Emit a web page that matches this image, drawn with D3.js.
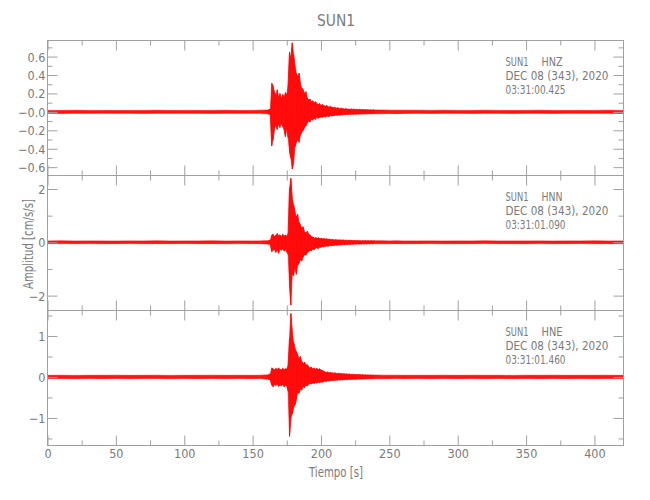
<!DOCTYPE html>
<html><head><meta charset="utf-8">
<script src="https://cdn.jsdelivr.net/npm/d3@7"></script>
<style>body{margin:0;background:#fff}svg{display:block}</style>
</head><body><svg id="c" width="650" height="500"></svg>
<script>
// ---------------- DATA ----------------
const station = "SUN1";
const channels = ["HNZ", "HNN", "HNE"];
const dateLabel = "DEC 08 (343), 2020";
const startTimes = ["03:31:00.425", "03:31:01.090", "03:31:01.460"];
const titleText = "SUN1";
const xLabel = "Tiempo [s]";
const yLabel = "Amplitud [cm/s/s]";

const xTicks = [0, 50, 100, 150, 200, 250, 300, 350, 400];
const xMinorTicks = [25, 75, 125, 175, 225, 275, 325, 375];

const hnzTickValues = [-0.6, -0.4, -0.2, 0, 0.2, 0.4, 0.6];
const hnzTickLabels = ["\u22120.6", "\u22120.4", "\u22120.2", "\u22120.0", "0.2", "0.4", "0.6"];
const hnzMinorTicks = [-0.5, -0.3, -0.1, 0.1, 0.3, 0.5, 0.7];
const hnnTickValues = [-2, 0, 2];
const hnnTickLabels = ["\u22122", "0", "2"];
const hnnMinorTicks = [-1, 1];
const hneTickValues = [-1, 0, 1];
const hneTickLabels = ["\u22121", "0", "1"];
const hneMinorTicks = [-1.5, -0.5, 0.5, 1.5];

// time knots (s): per-knot max / min amplitude of each trace
const times = [0,10,20,30,40,50,60,70,80,90,100,110,120,130,140,150,155,
 160,161,162,163,164,165,166,167,168,169,170,171,172,173,174,175,176,177,178,179,
 180,181,182,183,184,185,186,187,188,189,190,191,192,193,194,195,196,197,198,199,
 200,201,202,203,204,205,206,207,208,209,210,211,212,213,214,215,216,217,218,219,
 220,221,222,223,224,225,226,227,228,229,230,231,232,233,234,235,236,237,238,239,240,
 245,250,255,260,270,280,290,300,310,320,330,340,350,360,370,380,390,400,410,420,421];

const hnzHi = [0.016,0.015,0.017,0.015,0.016,0.014,0.016,0.015,0.017,0.015,0.016,0.015,0.016,0.017,0.015,0.016,0.017,
 0.02,0.02,0.025,0.03,0.31,0.28,0.22,0.17,0.24,0.15,0.20,0.14,0.19,0.16,0.21,0.18,0.30,0.65,0.58,0.75,
 0.62,0.50,0.42,0.38,0.42,0.30,0.26,0.24,0.20,0.22,0.15,0.13,0.14,0.11,0.12,0.10,0.11,0.09,0.08,0.09,
 0.07,0.08,0.07,0.06,0.07,0.06,0.05,0.06,0.05,0.045,0.05,0.04,0.045,0.04,0.035,0.04,0.035,0.03,0.035,0.03,
 0.03,0.028,0.032,0.027,0.03,0.026,0.028,0.025,0.027,0.024,0.026,0.023,0.025,0.022,0.024,0.021,0.023,0.02,0.022,0.02,0.021,
 0.02,0.019,0.018,0.019,0.017,0.016,0.017,0.016,0.015,0.017,0.016,0.015,0.016,0.017,0.015,0.016,0.015,0.016,0.017,0.015,0.016];
const hnzLo = [-0.015,-0.017,-0.015,-0.016,-0.014,-0.016,-0.015,-0.017,-0.015,-0.016,-0.015,-0.016,-0.017,-0.015,-0.016,-0.015,-0.016,
 -0.02,-0.02,-0.025,-0.03,-0.37,-0.30,-0.18,-0.14,-0.19,-0.13,-0.17,-0.12,-0.16,-0.19,-0.27,-0.18,-0.28,-0.43,-0.50,-0.62,
 -0.55,-0.38,-0.33,-0.30,-0.33,-0.25,-0.22,-0.20,-0.17,-0.15,-0.12,-0.10,-0.11,-0.08,-0.09,-0.07,-0.08,-0.06,-0.07,-0.06,
 -0.055,-0.06,-0.05,-0.055,-0.05,-0.045,-0.05,-0.04,-0.045,-0.04,-0.038,-0.035,-0.037,-0.033,-0.035,-0.03,-0.032,-0.028,-0.03,-0.027,
 -0.028,-0.026,-0.027,-0.025,-0.026,-0.024,-0.025,-0.023,-0.024,-0.022,-0.023,-0.021,-0.022,-0.02,-0.021,-0.02,-0.021,-0.019,-0.02,-0.019,-0.02,
 -0.019,-0.018,-0.019,-0.017,-0.016,-0.017,-0.015,-0.016,-0.017,-0.015,-0.016,-0.017,-0.015,-0.016,-0.017,-0.015,-0.016,-0.015,-0.016,-0.017,-0.015];

const hnnHi = [0.05,0.055,0.048,0.052,0.05,0.046,0.053,0.05,0.055,0.048,0.051,0.05,0.054,0.047,0.052,0.05,0.053,
 0.06,0.06,0.07,0.08,0.27,0.30,0.22,0.26,0.33,0.24,0.28,0.22,0.30,0.25,0.27,0.23,0.35,2.03,2.40,1.65,
 1.40,1.15,0.95,1.05,0.75,0.65,0.55,0.58,0.40,0.35,0.42,0.30,0.28,0.22,0.20,0.16,0.18,0.15,0.17,0.14,
 0.15,0.13,0.14,0.12,0.13,0.11,0.12,0.10,0.11,0.10,0.09,0.10,0.09,0.085,0.09,0.08,0.085,0.08,0.075,0.08,
 0.07,0.075,0.07,0.065,0.07,0.065,0.06,0.065,0.06,0.062,0.058,0.06,0.057,0.06,0.055,0.058,0.055,0.057,0.054,0.056,0.055,
 0.055,0.052,0.054,0.05,0.05,0.053,0.048,0.052,0.05,0.055,0.049,0.051,0.05,0.053,0.047,0.052,0.05,0.054,0.049,0.051,0.05];
const hnnLo = [-0.05,-0.047,-0.053,-0.049,-0.052,-0.05,-0.048,-0.054,-0.05,-0.052,-0.047,-0.051,-0.05,-0.053,-0.049,-0.052,-0.05,
 -0.06,-0.06,-0.07,-0.08,-0.35,-0.30,-0.26,-0.38,-0.28,-0.41,-0.25,-0.30,-0.24,-0.33,-0.28,-0.36,-0.45,-1.60,-2.35,-1.20,
 -1.25,-0.95,-1.20,-0.85,-0.80,-0.65,-0.70,-0.55,-0.45,-0.48,-0.38,-0.35,-0.30,-0.32,-0.25,-0.28,-0.22,-0.20,-0.24,-0.18,
 -0.19,-0.16,-0.17,-0.15,-0.14,-0.15,-0.13,-0.12,-0.13,-0.11,-0.12,-0.10,-0.11,-0.095,-0.10,-0.09,-0.085,-0.09,-0.08,-0.085,
 -0.075,-0.08,-0.07,-0.075,-0.068,-0.07,-0.065,-0.062,-0.065,-0.06,-0.062,-0.058,-0.06,-0.057,-0.058,-0.055,-0.057,-0.054,-0.056,-0.053,-0.055,
 -0.053,-0.055,-0.05,-0.052,-0.05,-0.048,-0.053,-0.05,-0.052,-0.047,-0.051,-0.05,-0.054,-0.049,-0.052,-0.05,-0.048,-0.053,-0.05,-0.052,-0.05];

const hneHi = [0.04,0.042,0.038,0.041,0.04,0.043,0.039,0.04,0.042,0.038,0.041,0.04,0.043,0.039,0.041,0.04,0.042,
 0.05,0.05,0.06,0.07,0.22,0.20,0.17,0.21,0.18,0.22,0.19,0.17,0.21,0.18,0.20,0.19,0.30,0.95,1.55,1.10,
 0.85,0.70,0.62,0.54,0.45,0.50,0.38,0.33,0.36,0.29,0.30,0.25,0.22,0.24,0.20,0.22,0.19,0.21,0.18,0.20,
 0.17,0.16,0.14,0.12,0.11,0.12,0.10,0.11,0.10,0.09,0.10,0.09,0.085,0.09,0.08,0.085,0.075,0.08,0.07,0.075,
 0.065,0.07,0.06,0.065,0.06,0.058,0.06,0.055,0.058,0.052,0.055,0.05,0.052,0.048,0.05,0.046,0.048,0.045,0.046,0.044,0.045,
 0.044,0.042,0.043,0.04,0.041,0.04,0.043,0.039,0.042,0.04,0.041,0.038,0.042,0.04,0.043,0.039,0.041,0.04,0.042,0.039,0.04];
const hneLo = [-0.04,-0.038,-0.042,-0.04,-0.041,-0.039,-0.043,-0.04,-0.038,-0.042,-0.04,-0.041,-0.039,-0.042,-0.04,-0.041,-0.04,
 -0.05,-0.05,-0.06,-0.07,-0.20,-0.24,-0.18,-0.21,-0.16,-0.23,-0.19,-0.22,-0.17,-0.24,-0.20,-0.22,-0.35,-1.45,-1.00,-0.90,
 -0.75,-0.68,-0.55,-0.37,-0.40,-0.30,-0.32,-0.24,-0.26,-0.20,-0.22,-0.18,-0.16,-0.17,-0.15,-0.16,-0.14,-0.15,-0.13,-0.14,
 -0.12,-0.13,-0.11,-0.10,-0.11,-0.09,-0.10,-0.085,-0.09,-0.08,-0.085,-0.075,-0.08,-0.07,-0.075,-0.068,-0.07,-0.065,-0.062,-0.065,
 -0.06,-0.058,-0.06,-0.055,-0.056,-0.053,-0.055,-0.05,-0.052,-0.048,-0.05,-0.046,-0.048,-0.045,-0.046,-0.043,-0.045,-0.042,-0.044,-0.041,-0.043,
 -0.043,-0.041,-0.04,-0.042,-0.04,-0.042,-0.039,-0.041,-0.04,-0.043,-0.038,-0.041,-0.04,-0.042,-0.039,-0.041,-0.04,-0.043,-0.039,-0.04,-0.041];

// ---------------- LAYOUT ----------------
const FONT = "'DejaVu Sans Condensed','Liberation Sans Narrow','Liberation Sans',sans-serif";
const TXT = "#7a7a7a", FRAME = "#a0a0a0", TRACE = "#ff0000";
const left = 47.5, right = 623.5, top0 = 40, ph = 135;
const svg = d3.select("#c");

const x = d3.scaleLinear().domain([0, 421.25]).range([left, right]);

const panels = [
  {hi: hnzHi, lo: hnzLo, dom: [-0.685, 0.78], tv: hnzTickValues, tl: hnzTickLabels, mt: hnzMinorTicks},
  {hi: hnnHi, lo: hnnLo, dom: [-2.54, 2.525], tv: hnnTickValues, tl: hnnTickLabels, mt: hnnMinorTicks},
  {hi: hneHi, lo: hneLo, dom: [-1.66, 1.634], tv: hneTickValues, tl: hneTickLabels, mt: hneMinorTicks}
];

function styleTicks(g) {
  g.select(".domain").remove();
  g.selectAll(".tick line").attr("stroke", FRAME).attr("stroke-width", 1);
}

panels.forEach((p, i) => {
  const top = top0 + ph * i, bot = top + ph;
  const y = d3.scaleLinear().domain(p.dom).range([bot, top]);

  // trace: min/max envelope band + dense min/max strokes in the event window
  const data = times.map((t, k) => ({t, hi: p.hi[k], lo: p.lo[k]}));
  const area = d3.area().x(d => x(d.t)).y0(d => y(d.lo)).y1(d => y(d.hi));
  svg.append("path").datum(data).attr("d", area)
    .attr("fill", TRACE).attr("fill-opacity", 0.92).attr("stroke", TRACE).attr("stroke-width", 0.6);
  const dense = data.filter((d, k) => k > 0 && k < data.length - 1 &&
    data[k + 1].t - d.t <= 1 && d.t - data[k - 1].t <= 1);
  const zz = [];
  dense.forEach((d, k) => {
    if (k % 2 === 0) { zz.push([d.t, d.hi]); zz.push([d.t, d.lo]); }
    else { zz.push([d.t, d.lo]); zz.push([d.t, d.hi]); }
  });
  svg.append("path").datum(zz)
    .attr("d", d3.line().x(d => x(d[0])).y(d => y(d[1])))
    .attr("fill", "none").attr("stroke", TRACE).attr("stroke-width", 0.6);

  // frame
  svg.append("rect").attr("x", left).attr("y", top + 0.5).attr("width", right - left).attr("height", ph)
    .attr("fill", "none").attr("stroke", FRAME).attr("stroke-width", 1);

  // y ticks (inward, both sides)
  svg.append("g").attr("transform", `translate(${left},0)`)
    .call(d3.axisRight(y).tickValues(p.tv).tickSize(10).tickFormat("")).call(styleTicks);
  svg.append("g").attr("transform", `translate(${left},0)`)
    .call(d3.axisRight(y).tickValues(p.mt).tickSize(5).tickFormat("")).call(styleTicks);
  svg.append("g").attr("transform", `translate(${right},0)`)
    .call(d3.axisLeft(y).tickValues(p.tv).tickSize(10).tickFormat("")).call(styleTicks);
  svg.append("g").attr("transform", `translate(${right},0)`)
    .call(d3.axisLeft(y).tickValues(p.mt).tickSize(5).tickFormat("")).call(styleTicks);
  // y labels
  const yl = svg.append("g").attr("transform", `translate(${left},0)`)
    .call(d3.axisLeft(y).tickValues(p.tv).tickSize(0).tickPadding(2).tickFormat((d, j) => p.tl[j]));
  yl.select(".domain").remove();
  yl.selectAll("text").attr("fill", TXT).attr("font-family", FONT).attr("font-size", 12.5).attr("dy", "0.36em");

  // x ticks (inward top & bottom)
  [[top + 0.5, d3.axisBottom], [bot + 0.5, d3.axisTop]].forEach(([yy, ax]) => {
    svg.append("g").attr("transform", `translate(0,${yy})`)
      .call(ax(x).tickValues(xTicks).tickSize(10).tickFormat("")).call(styleTicks);
    svg.append("g").attr("transform", `translate(0,${yy})`)
      .call(ax(x).tickValues(xMinorTicks).tickSize(5).tickFormat("")).call(styleTicks);
  });

  // annotation
  const tx = 505.5, ty = top + 26;
  const a = svg.append("g").attr("fill", TXT).attr("font-family", FONT).attr("font-size", 11.5);
  a.append("text").attr("x", tx).attr("y", ty).text(station)
    .attr("textLength", 23).attr("lengthAdjust", "spacingAndGlyphs");
  a.append("text").attr("x", 541.5).attr("y", ty).text(channels[i])
    .attr("textLength", 21).attr("lengthAdjust", "spacingAndGlyphs");
  a.append("text").attr("x", tx).attr("y", ty + 14).text(dateLabel)
    .attr("textLength", 103).attr("lengthAdjust", "spacingAndGlyphs");
  a.append("text").attr("x", tx).attr("y", ty + 28).text(startTimes[i])
    .attr("textLength", 60).attr("lengthAdjust", "spacingAndGlyphs");
});

// x labels on bottom
const xl = svg.append("g").attr("transform", `translate(0,445)`)
  .call(d3.axisBottom(x).tickValues(xTicks).tickSize(0).tickPadding(4.5));
xl.select(".domain").remove();
xl.selectAll("text").attr("fill", TXT).attr("font-family", FONT).attr("font-size", 12.5);

// titles
svg.append("text").attr("x", 336).attr("y", 26).attr("text-anchor", "middle")
  .attr("fill", TXT).attr("font-family", FONT).attr("font-size", 16).text(titleText)
  .attr("textLength", 38).attr("lengthAdjust", "spacingAndGlyphs");
svg.append("text").attr("x", 336).attr("y", 477).attr("text-anchor", "middle")
  .attr("fill", TXT).attr("font-family", FONT).attr("font-size", 14).text(xLabel)
  .attr("textLength", 54).attr("lengthAdjust", "spacingAndGlyphs");
svg.append("text").attr("transform", "translate(33,244) rotate(-90)").attr("text-anchor", "middle")
  .attr("fill", TXT).attr("font-family", FONT).attr("font-size", 14).text(yLabel)
  .attr("textLength", 90).attr("lengthAdjust", "spacingAndGlyphs");
</script></body></html>
